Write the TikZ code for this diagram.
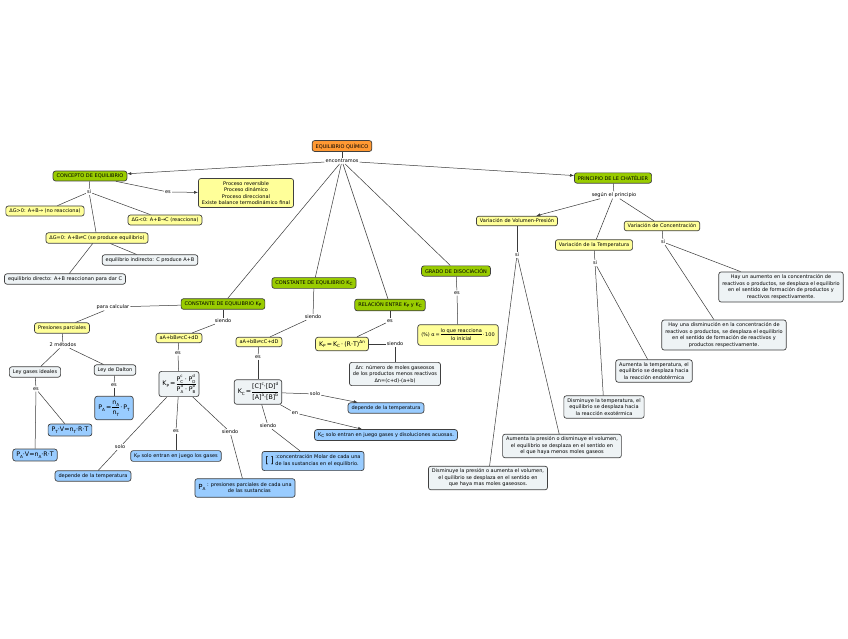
\documentclass[tikz,border=0pt]{standalone}
\usepackage{fontspec}
\setmainfont{DejaVu Sans}
\usetikzlibrary{arrows.meta, positioning}
\definecolor{cmOrange}{HTML}{FF9933}
\definecolor{cmGreen}{HTML}{99CC00}
\definecolor{cmYellow}{HTML}{FFFF99}
\definecolor{cmGrey}{HTML}{EEF3F5}
\definecolor{cmBlue}{HTML}{99CCFF}
\definecolor{cmLine}{HTML}{3A3A3A}
\newcommand\lo[1]{\raisebox{-0.5ex}{\fontsize{4.2}{4.5}\selectfont #1}}
\newcommand\hi[1]{\raisebox{0.9ex}{\fontsize{4.2}{4.5}\selectfont #1}}
\newcommand\lohi[2]{\rlap{\raisebox{1.1ex}{\fontsize{4}{4.5}\selectfont #2}}\raisebox{-0.7ex}{\fontsize{4}{4.5}\selectfont #1}}
\newcommand\frc[2]{\begin{tabular}{@{}c@{}}#1\\[0.5pt]\hline\rule{0pt}{1.15em}#2\end{tabular}}
\tikzset{
  box/.style     = {draw=black!75, line width=0.7pt, rounded corners=2.5pt, align=center,
                    font=\fontsize{5}{6.5}\selectfont, inner xsep=3.5pt, inner ysep=2.8pt},
  root/.style    = {box, fill=cmOrange},
  concept/.style = {box, fill=cmGreen},
  idea/.style    = {box, fill=cmYellow},
  note/.style    = {box, fill=cmGrey},
  fact/.style    = {box, fill=cmBlue},
  formula/.style = {font=\fontsize{6.3}{7.5}\selectfont},
  phrase/.style  = {font=\fontsize{5}{6}\selectfont, inner sep=1pt},
  link/.style    = {draw=cmLine, line width=0.5pt},
  flow/.style    = {link, -{Latex[length=4pt, width=3pt]}}
}

\begin{document}
\begin{tikzpicture}[x=1pt, y=-1pt]
\useasboundingbox[fill=white] (0,0) rectangle (848,638);

\node[root]    at (342,146) (root)     {EQUILIBRIO QUÍMICO};
\node[phrase]  at (342,161) (lEnc)     {encontramos};

% concepto de equilibrio
\node[concept] at ( 90,176) (concepto) {CONCEPTO DE EQUILIBRIO};
\node[phrase]  at (168,192) (lEsProc)  {es};
\node[idea]    at (246,193) (proceso)  {Proceso reversible\\Proceso dinámico\\Proceso direccional\\Existe balance termodinámico final};
\node[phrase]  at ( 89,192) (lSiConc)  {si};
\node[idea]    at ( 45,211) (dgPos)    {ΔG>0: A+B→ (no reacciona)};
\node[idea]    at (165,220) (dgNeg)    {ΔG<0: A+B→C (reacciona)};
\node[idea]    at ( 97,238) (dgCero)   {ΔG=0: A+B⇌C (se produce equilibrio)};
\node[note]    at (150,260) (eqInd)    {equilibrio indirecto: C produce A+B};
\node[note]    at ( 65,279) (eqDir)    {equilibrio directo: A+B reaccionan para dar C};

% le chatelier
\node[concept] at (613,178) (chat)     {PRINCIPIO DE LE CHATÉLIER};
\node[phrase]  at (614,195) (lSegun)   {según el principio};
\node[idea]    at (517,221) (volPres)  {Variación de Volumen-Presión};
\node[idea]    at (594,245) (temp)     {Variación de la Temperatura};
\node[idea]    at (662,226) (concen)   {Variación de Concentración};
\node[phrase]  at (517,255) (lSiVol)   {si};
\node[phrase]  at (595,263) (lSiTemp)  {si};
\node[phrase]  at (663,242) (lSiCon)   {si};
\node[note]    at (488,478) (presBaja) {Disminuye la presión o aumenta el volumen,\\el quilibrio se desplaza en el sentido en\\que haya mas moles gaseosos.};
\node[note]    at (562,446) (presAlta) {Aumenta la presión o disminuye el volumen,\\el equilibrio se desplaza en el sentido en\\el que haya menos moles gaseos};
\node[note]    at (604,407) (tempBaja) {Disminuye la temperatura, el\\equilibrio se desplaza hacia\\la reacción exotérmica};
\node[note]    at (654,371) (tempAlta) {Aumenta la temperatura, el\\equilibrio se desplaza hacia\\la reacción endotérmica};
\node[note]    at (724,335) (concBaja) {Hay una disminución en la concentración de\\reactivos o productos, se desplaza el equilibrio\\en el sentido de formación de reactivos y\\productos respectivamente.};
\node[note]    at (781,287) (concAlta) {Hay un aumento en la concentración de\\reactivos o productos, se desplaza el equilibrio\\en el sentido de formación de productos y\\reactivos respectivamente.};

% constante kp
\node[concept] at (223,304) (kp)       {CONSTANTE DE EQUILIBRIO K\lo{P}};
\node[phrase]  at (113,307) (lPara)    {para calcular};
\node[idea]    at ( 62,328) (presParc) {Presiones parciales};
\node[phrase]  at ( 63,345) (lMetodos) {2 métodos};
\node[note]    at ( 35,372) (gasIdeal) {Ley gases ideales};
\node[note]    at (115,370) (dalton)   {Ley de Dalton};
\node[phrase]  at ( 36,389) (lEsGas)   {es};
\node[phrase]  at (114,385) (lEsDal)   {es};
\node[fact, formula] at ( 70,430) (ecTotal)  {P\lo{T}·V=n\lo{T}·R·T};
\node[fact, formula] at ( 35,455) (ecParc)   {P\lo{A}·V=n\lo{A}·R·T};
\node[fact, formula] at (114,408) (ecDalton) {P\lo{A}\,=\,\frc{n\lo{A}}{n\lo{T}}\,·\,P\lo{T}};
\node[phrase]  at (223,321) (lSiKp)    {siendo};
\node[idea]    at (179,338) (reacKp)   {aA+bB⇌cC+dD};
\node[phrase]  at (178,353) (lEsKp)    {es};
\node[note, formula] at (179,384) (formKp) {K\lo{P}\,=\,\frc{P\lohi{C}{c}\;·\;P\lohi{D}{d}}{P\lohi{A}{a}\;·\;P\lohi{B}{b}}};
\node[phrase]  at (120,447) (lSoloKp)  {solo};
\node[phrase]  at (176,431) (lEsKp2)   {es};
\node[phrase]  at (230,432) (lSiKp2)   {siendo};
\node[fact]    at ( 93,476) (tempKp)   {depende de la temperatura};
\node[fact]    at (176,456) (gasesKp)  {K\lo{P} solo entran en juego los gases};
\node[fact]    at (245,488) (presDef)  {{\fontsize{7}{8}\selectfont P}\lo{A}\ \begin{tabular}{@{}c@{}}: presiones parciales de cada una\\de las sustancias\end{tabular}};

% constante kc
\node[concept] at (314,283) (kc)       {CONSTANTE DE EQUILIBRIO K\lo{C}};
\node[phrase]  at (313,317) (lSiKc)    {siendo};
\node[idea]    at (259,342) (reacKc)   {aA+bB⇌cC+dD};
\node[phrase]  at (258,357) (lEsKc)    {es};
\node[note, formula] at (258,392) (formKc) {K\lo{C}\,=\,\frc{[C]\hi{c}·[D]\hi{d}}{[A]\hi{a}·[B]\hi{b}}};
\node[phrase]  at (315,394) (lSoloKc)  {solo};
\node[phrase]  at (295,413) (lEnKc)    {en};
\node[phrase]  at (268,426) (lSiKc2)   {siendo};
\node[fact]    at (386,408) (tempKc)   {depende de la temperatura};
\node[fact]    at (386,435) (gasesKc)  {K\lo{C} solo entran en juego gases y disoluciones acuosas.};
\node[fact]    at (313,461) (concDef)  {\raisebox{-1pt}{\fontsize{9}{9}\selectfont[\,]}\kern1.5pt\begin{tabular}{@{}l@{}}:concentración Molar de cada una\\[0.6pt]de las sustancias en el equilibrio.\end{tabular}};

% relacion y grado
\node[concept] at (390,305) (rel)      {RELACIÓN ENTRE K\lo{P} y K\lo{C}};
\node[phrase]  at (390,321) (lEsRel)   {es};
\node[idea, formula] at (342,344) (relEc) {K\lo{P}\,=\,K\lo{C}\,·\,(R·T)\hi{Δn}};
\node[phrase]  at (395,344) (lSiRel)   {siendo};
\node[note]    at (395,374) (deltaN)   {Δn: número de moles gaseosos\\de los productos menos reactivos\\Δn=(c+d)-(a+b)};
\node[concept] at (456,271) (grado)    {GRADO DE DISOCIACIÓN};
\node[phrase]  at (457,293) (lEsGrado) {es};
\node[idea]    at (458,335) (alfa)     {(\%) α\,=\,\frc{lo que reacciona}{lo inicial}\,·\,100};

\draw[link] (root) -- (lEnc);
\draw[flow] (lEnc) -- (concepto);
\draw[flow] (lEnc) -- (chat);
\draw[link] (lEnc) -- (kp);
\draw[link] (lEnc) -- (kc);
\draw[link] (lEnc) -- (rel);
\draw[link] (lEnc) -- (grado);

\draw[link] (concepto) -- (lEsProc);
\draw[flow] (lEsProc) -- (proceso);
\draw[link] (concepto) -- (lSiConc);
\draw[link] (lSiConc) -- (dgPos);
\draw[link] (lSiConc) -- (dgNeg);
\draw[link] (lSiConc) -- (dgCero);
\draw[link] (dgCero) -- (eqInd);
\draw[link] (dgCero) -- (eqDir);

\draw[link] (chat) -- (lSegun);
\draw[flow] (lSegun) -- (volPres);
\draw[link] (lSegun) -- (temp);
\draw[link] (lSegun) -- (concen);
\draw[link] (volPres) -- (lSiVol);
\draw[link] (lSiVol) -- (presBaja);
\draw[link] (lSiVol) -- (presAlta);
\draw[link] (temp) -- (lSiTemp);
\draw[link] (lSiTemp) -- (tempBaja);
\draw[link] (lSiTemp) -- (tempAlta);
\draw[link] (concen) -- (lSiCon);
\draw[link] (lSiCon) -- (concBaja);
\draw[link] (lSiCon) -- (concAlta);

\draw[link] (kp) -- (lPara);
\draw[link] (lPara) -- (presParc);
\draw[link] (presParc) -- (lMetodos);
\draw[link] (lMetodos) -- (gasIdeal);
\draw[link] (lMetodos) -- (dalton);
\draw[link] (gasIdeal) -- (lEsGas);
\draw[link] (lEsGas) -- (ecTotal);
\draw[link] (lEsGas) -- (ecParc);
\draw[link] (dalton) -- (lEsDal);
\draw[link] (lEsDal) -- (ecDalton);
\draw[link] (kp) -- (lSiKp);
\draw[link] (lSiKp) -- (reacKp);
\draw[link] (reacKp) -- (lEsKp);
\draw[link] (lEsKp) -- (formKp);
\draw[link] (formKp) -- (lSoloKp);
\draw[link] (lSoloKp) -- (tempKp);
\draw[link] (formKp) -- (lEsKp2);
\draw[link] (lEsKp2) -- (gasesKp);
\draw[link] (formKp) -- (lSiKp2);
\draw[link] (lSiKp2) -- (presDef);

\draw[link] (kc) -- (lSiKc);
\draw[link] (lSiKc) -- (reacKc);
\draw[link] (reacKc) -- (lEsKc);
\draw[link] (lEsKc) -- (formKc);
\draw[link] (formKc) -- (lSoloKc);
\draw[flow] (lSoloKc) -- (tempKc);
\draw[link] (formKc) -- (lEnKc);
\draw[flow] (lEnKc) -- (gasesKc);
\draw[link] (formKc) -- (lSiKc2);
\draw[link] (lSiKc2) -- (concDef);

\draw[link] (rel) -- (lEsRel);
\draw[link] (lEsRel) -- (relEc);
\draw[link] (relEc) -- (lSiRel);
\draw[link] (lSiRel) -- (deltaN);
\draw[link] (grado) -- (lEsGrado);
\draw[link] (lEsGrado) -- (alfa);
\end{tikzpicture}
\end{document}
